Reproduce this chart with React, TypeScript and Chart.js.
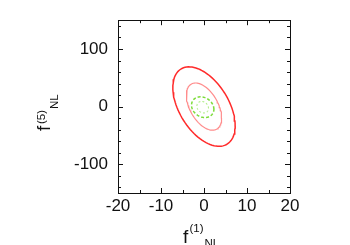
import React, { useEffect, useRef } from "react";
import { Chart, registerables } from "chart.js";

Chart.register(...registerables);

// Axis ranges and ticks
const xRange = [-20, 20];
const yRange = [-150, 150];
const xMajorTicks = [-20, -10, 0, 10, 20];
const xMinorTicks = [-15, -5, 5, 15];
const yMajorTicks = [-100, 0, 100];
const yMinorTicks = [-140, -120, -80, -60, -40, -20, 20, 40, 60, 80, 120, 140];

// Confidence contours (Fisher ellipses)
const contourNames = ["red 95%", "red 68%", "green 95%", "green 68%"];
const contourCenterX = [0, 0, -0.3, -0.3];
const contourCenterY = [0, 0, -1, -1];
const contourSigmaX = [7.25, 4.1, 2.6, 1.35];
const contourSigmaY = [69, 41, 18, 10];
const contourRho = [-0.48, -0.48, -0.2, -0.2];
const contourColors = ["#ff2b2b", "#ff8c8c", "#7ddc3a", "#b4ee8e"];
const contourWidths = [1.5, 1.2, 1.5, 1.1];
const contourDashes: number[][] = [[], [], [3, 2], [2, 2]];

function ellipsePoints(i: number) {
  const pts: { x: number; y: number }[] = [];
  const n = 96;
  const r = contourRho[i];
  const s = Math.sqrt(1 - r * r);
  for (let k = 0; k <= n; k++) {
    const t = (2 * Math.PI * k) / n;
    pts.push({
      x: contourCenterX[i] + contourSigmaX[i] * Math.cos(t),
      y: contourCenterY[i] + contourSigmaY[i] * (r * Math.cos(t) + s * Math.sin(t)),
    });
  }
  return pts;
}

type Part = { text: string; size: number; du: number; dv: number };

function drawParts(ctx: CanvasRenderingContext2D, parts: Part[]) {
  for (const p of parts) {
    ctx.font = `${p.size}px "Liberation Sans", Arial, sans-serif`;
    ctx.fillText(p.text, p.du, p.dv);
  }
}

const decorPlugin = {
  id: "decor",
  afterDraw(chart: any) {
    const ctx: CanvasRenderingContext2D = chart.ctx;
    const { left, right, top, bottom } = chart.chartArea;
    const xs = chart.scales.x;
    const ys = chart.scales.y;
    ctx.save();
    ctx.strokeStyle = "#111";
    ctx.lineWidth = 1;
    const tickX = (v: number, len: number) => {
      const px = Math.round(xs.getPixelForValue(v)) + 0.5;
      ctx.beginPath();
      ctx.moveTo(px, bottom);
      ctx.lineTo(px, bottom - len);
      ctx.moveTo(px, top);
      ctx.lineTo(px, top + len);
      ctx.stroke();
    };
    const tickY = (v: number, len: number) => {
      const py = Math.round(ys.getPixelForValue(v)) + 0.5;
      ctx.beginPath();
      ctx.moveTo(left, py);
      ctx.lineTo(left + len, py);
      ctx.moveTo(right, py);
      ctx.lineTo(right - len, py);
      ctx.stroke();
    };
    xMajorTicks.forEach((v) => tickX(v, 5));
    xMinorTicks.forEach((v) => tickX(v, 3));
    yMajorTicks.forEach((v) => tickY(v, 5));
    yMinorTicks.forEach((v) => tickY(v, 3));

    // axis titles
    ctx.fillStyle = "#111";
    ctx.textBaseline = "alphabetic";
    ctx.textAlign = "left";
    ctx.save();
    ctx.translate(183, 243);
    drawParts(ctx, [
      { text: "f", size: 19, du: 0, dv: 0 },
      { text: "(1)", size: 11.5, du: 6.5, dv: -11 },
      { text: "NL", size: 11.5, du: 21.5, dv: 3.6 },
    ]);
    ctx.restore();
    ctx.save();
    ctx.translate(50, 131);
    ctx.rotate(-Math.PI / 2);
    drawParts(ctx, [
      { text: "f", size: 19, du: 0, dv: 0 },
      { text: "(5)", size: 11.5, du: 7, dv: -5 },
      { text: "NL", size: 11.5, du: 22, dv: 7.5 },
    ]);
    ctx.restore();
    ctx.restore();
  },
};

export default function App() {
  const ref = useRef<HTMLCanvasElement | null>(null);
  useEffect(() => {
    if (!ref.current) return;
    const datasets = contourNames.map((name, i) => ({
      label: name,
      data: ellipsePoints(i),
      showLine: true,
      pointRadius: 0,
      borderColor: contourColors[i],
      borderWidth: contourWidths[i],
      borderDash: contourDashes[i],
      fill: false,
      tension: 0,
    }));
    const tickFont = { family: '"Liberation Sans", Arial, sans-serif', size: 17 };
    const chart = new Chart(ref.current, {
      type: "scatter",
      data: { datasets },
      plugins: [decorPlugin],
      options: {
        animation: false,
        responsive: false,
        devicePixelRatio: 1,
        layout: { padding: { top: 20, right: 60, left: 0, bottom: 0 } },
        plugins: { legend: { display: false }, tooltip: { enabled: false } },
        scales: {
          x: {
            type: "linear",
            min: xRange[0],
            max: xRange[1],
            afterFit: (s: any) => {
              s.height = 52;
            },
            afterBuildTicks: (s: any) => {
              s.ticks = xMajorTicks.map((v) => ({ value: v }));
            },
            grid: { display: false, drawTicks: false },
            border: { display: true, color: "#111", width: 1 },
            ticks: { color: "#111", font: tickFont, padding: 3, maxRotation: 0, autoSkip: false },
          },
          y: {
            type: "linear",
            min: yRange[0],
            max: yRange[1],
            afterFit: (s: any) => {
              s.width = 118;
            },
            afterBuildTicks: (s: any) => {
              s.ticks = yMajorTicks.map((v) => ({ value: v }));
            },
            grid: { display: false, drawTicks: false },
            border: { display: true, color: "#111", width: 1 },
            ticks: { color: "#111", font: tickFont, padding: 10, autoSkip: false },
          },
          x2: {
            type: "linear",
            position: "top",
            min: xRange[0],
            max: xRange[1],
            afterFit: (s: any) => {
              s.height = 0;
            },
            grid: { display: false, drawTicks: false },
            border: { display: true, color: "#111", width: 1 },
            ticks: { display: false },
          },
          y2: {
            type: "linear",
            position: "right",
            min: yRange[0],
            max: yRange[1],
            afterFit: (s: any) => {
              s.width = 0;
            },
            grid: { display: false, drawTicks: false },
            border: { display: true, color: "#111", width: 1 },
            ticks: { display: false },
          },
        },
      } as any,
    });
    return () => chart.destroy();
  }, []);
  return (
    <div style={{ position: "absolute", left: 0, top: 0, width: 350, height: 245 }}>
      <canvas ref={ref} width={350} height={245} style={{ display: "block" }} />
    </div>
  );
}
